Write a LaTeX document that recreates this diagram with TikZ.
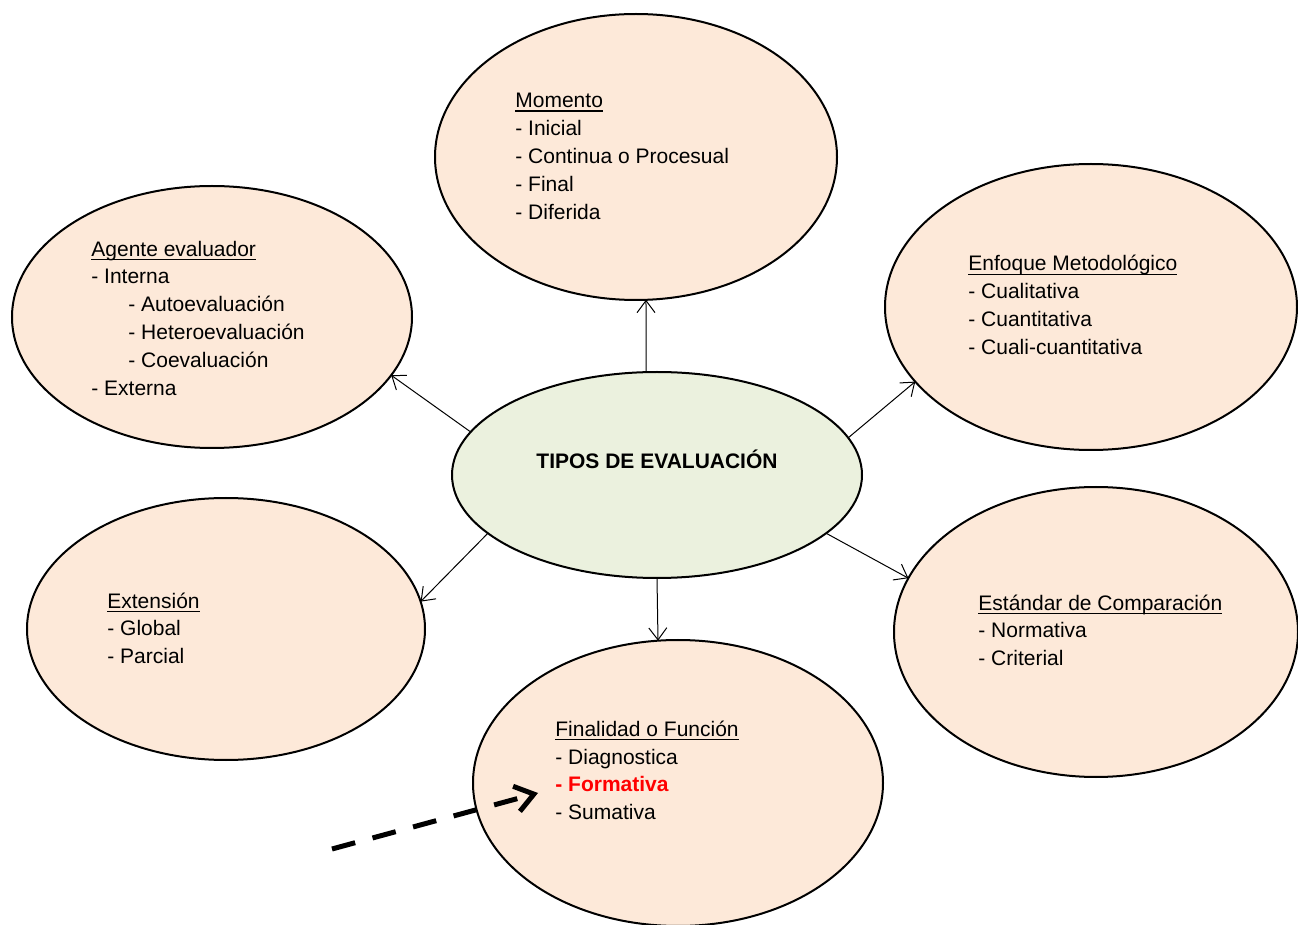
\documentclass[tikz,border=0pt]{standalone}
\usepackage{fontspec}
\setmainfont{Liberation Sans}
\usetikzlibrary{shapes.geometric,arrows.meta}

\definecolor{durazno}{HTML}{FDE9D9}
\definecolor{verdeclaro}{HTML}{EBF1DE}

% subrayado a distancia fija de la linea base
\newcommand\subrayar[1]{\setbox0\hbox{#1}\rlap{\rule[-2.2pt]{\wd0}{0.9pt}}\box0}

\tikzset{
  tipo/.style={ellipse, draw, line width=1pt, fill=durazno, inner sep=0pt, outer sep=0pt},
  centro/.style={tipo, fill=verdeclaro},
  lista/.style={anchor=north west, align=left, inner sep=0pt, font=\fontsize{10.5}{14}\selectfont},
  flecha/.style={-{Straight Barb[length=6pt,width=9pt]}, line width=0.5pt},
  guia/.style={-{Straight Barb[length=9pt,width=13pt]}, line width=2.5pt, dash pattern=on 12pt off 9pt}
}

\begin{document}
\begin{tikzpicture}[x=0.5pt, y=-0.5pt]
                        \useasboundingbox (0,0) rectangle (1298,925);

                        % elipses
                        \node [tipo, minimum width=201pt, minimum height=143pt] (momento) at (636,157) {};
                        \node [tipo, minimum width=200pt, minimum height=131pt] (agente) at (212,317) {};
                        \node [tipo, minimum width=206pt, minimum height=143pt] (enfoque) at (1091,307) {};
                        \node [tipo, minimum width=199pt, minimum height=131pt] (extension) at (226,629) {};
                        \node [tipo, minimum width=202pt, minimum height=145pt] (estandar) at (1096,632) {};
                        \node [tipo, minimum width=205pt, minimum height=143pt] (finalidad) at (678,783) {};
                        \node [centro, minimum width=205pt, minimum height=103pt] (tipos) at (657,475) {};

                        % textos
                        \node [anchor=base, inner sep=0pt, font=\fontsize{10.5}{14}\selectfont\bfseries] (titulo) at (657,468.5) {TIPOS DE EVALUACIÓN};
                        \node [lista] (momento-txt) at (515,87.4) {\strut\subrayar{Momento}\\- Inicial\\- Continua o Procesual\\- Final\\- Diferida};
                        \node [lista] (agente-txt) at (91,236) {\strut\subrayar{Agente evaluador}\\- Interna\\\hspace*{18.5pt}- Autoevaluación\\\hspace*{18.5pt}- Heteroevaluación\\\hspace*{18.5pt}- Coevaluación\\- Externa};
                        \node [lista] (enfoque-txt) at (968,251) {\strut\subrayar{Enfoque Metodológico}\\- Cualitativa\\- Cuantitativa\\- Cuali-cuantitativa};
                        \node [lista] (extension-txt) at (107,588) {\strut\subrayar{Extensión}\\- Global\\- Parcial};
                        \node [lista] (estandar-txt) at (978,590) {\strut\subrayar{Estándar de Comparación}\\- Normativa\\- Criterial};
                        \node [lista] (finalidad-txt) at (555,716) {\strut\subrayar{Finalidad o Función}\\- Diagnostica\\\textcolor{red}{\bfseries - Formativa}\\- Sumativa};

                        % flechas
                        \draw [flecha] (tipos.96) -- (momento.-86);
                        \draw [flecha] (tipos.167.7) -- (agente.-18);
                        \draw [flecha] (tipos.11.8) -- (enfoque.203);
                        \draw [flecha] (tipos.199.2) -- (extension.8.5);
                        \draw [flecha] (tipos.south) -- (finalidad.98.4);
                        \draw [flecha] (tipos.-19.2) -- (estandar.164);

                        \coordinate (guia-ini) at (332,849);
                        \coordinate (guia-fin) at (538,793);
                        \draw [guia] (guia-ini) -- (guia-fin);
                    \end{tikzpicture}
\end{document}
